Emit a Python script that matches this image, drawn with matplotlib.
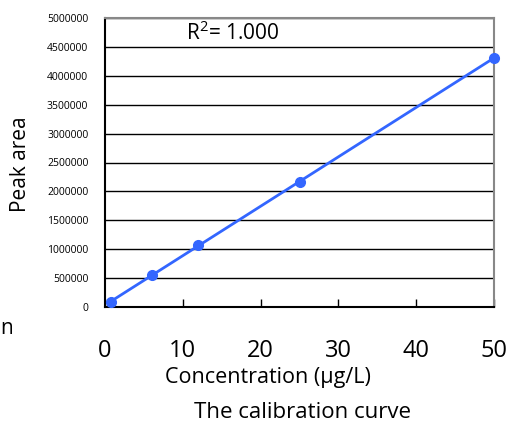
import numpy as np
import matplotlib
matplotlib.use("Agg")
import matplotlib.pyplot as plt

conc = [0.75, 6, 12, 25, 50]
area = [90000, 545000, 1075000, 2160000, 4310000]
xticks = [0, 10, 20, 30, 40, 50]
yticks = list(range(0, 5000001, 500000))

plt.rcParams['font.family'] = ['Open Sans', 'DejaVu Sans']
plt.rcParams['mathtext.fontset'] = 'custom'
plt.rcParams['mathtext.rm'] = 'Open Sans'

fig = plt.figure(figsize=(5.09, 4.24), dpi=100)
ax = fig.add_axes([105/509, 1-307/424, 389/509, 289/424])

color = '#3366FF'
ax.plot(conc, area, 'o', color=color, markersize=7, zorder=3, clip_on=False)
slope, intercept = np.polyfit(conc, area, 1)
xs = np.array([min(conc), max(conc)])
ax.plot(xs, slope*xs + intercept, '-', color=color, lw=2, zorder=3)

ax.set_xlim(0, 50)
ax.set_ylim(0, 5000000)
ax.set_xticks(xticks)
ax.set_yticks(yticks)
ax.set_yticklabels([str(v) for v in yticks], fontsize=7.5)
ax.set_xticklabels([str(v) for v in xticks], fontsize=17)
ax.tick_params(axis='x', direction='in', length=6, width=1, pad=23)
ax.tick_params(axis='y', length=0, pad=12)
ax.grid(axis='y', color='black', lw=1)
ax.set_axisbelow(True)
for s in ['left', 'bottom']:
    ax.spines[s].set_color('black')
    ax.spines[s].set_linewidth(1.5)
for s in ['top', 'right']:
    ax.spines[s].set_color('#888888')
    ax.spines[s].set_linewidth(1.5)

ax.text((186-105)/389, (307-40)/289, r'R$^\mathregular{2}$= 1.000',
        transform=ax.transAxes, fontsize=15, ha='left', va='baseline')

fig.text(20.5/509, 1-164/424, 'Peak area', rotation=90, fontsize=15,
         ha='center', va='center')
fig.text(268/509, 1-378/424, 'Concentration (µg/L)', fontsize=15.5,
         ha='center', va='center')
fig.text(302/509, 1-413/424, 'The calibration curve', fontsize=16,
         ha='center', va='center')
fig.text(0.5/509, 1-328/424, 'n', fontsize=15, ha='left', va='center')

fig.savefig('out.png', dpi=100)
